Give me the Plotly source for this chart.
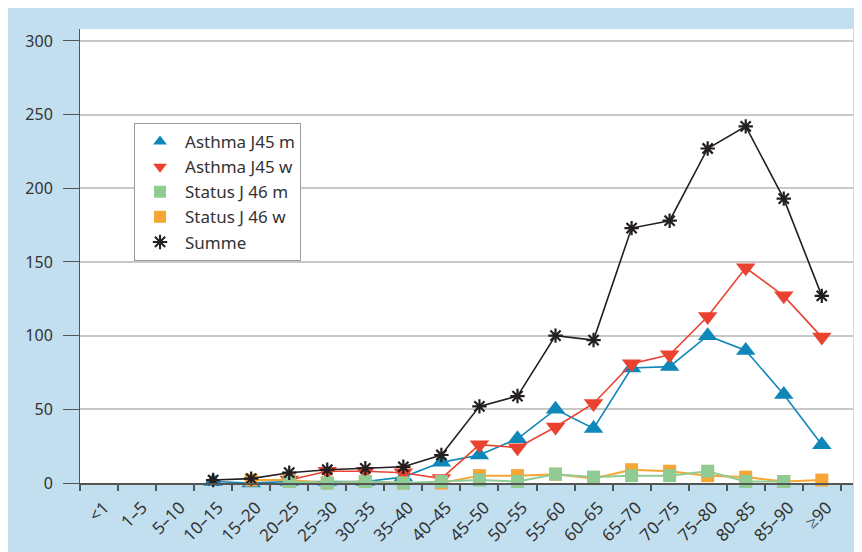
import plotly.graph_objects as go

categories = ["<1", "1–5", "5–10", "10–15", "15–20", "20–25", "25–30", "30–35", "35–40",
              "40–45", "45–50", "50–55", "55–60", "60–65", "65–70", "70–75", "75–80",
              "80–85", "85–90", "≥90"]

asthma_m = [None, None, None, 1, 0, 1, 1, 1, 4, 14, 19, 30, 50, 37, 78, 79, 100, 90, 60, 26]
asthma_w = [None, None, None, None, None, 2, 8, 8, 7, 3, 26, 24, 38, 54, 81, 87, 113, 146, 127, 99]
status_m = [None, None, None, None, None, 1, 0, 1, 0, 1, 2, 1, 6, 4, 5, 5, 8, 1, 1, None]
status_w = [None, None, None, None, 2, 2, 0, 1, 0, 0, 5, 5, 6, 3, 9, 8, 5, 4, 1, 2]
summe = [None, None, None, 2, 3, 7, 9, 10, 11, 19, 52, 59, 100, 97, 173, 178, 227, 242, 193, 127]

y_ticks = [0, 50, 100, 150, 200, 250, 300]

BLUE = "#0f87b9"
RED = "#ea4230"
GREEN = "#8fcb92"
ORANGE = "#f7a535"
BLACK = "#231f20"
PANEL = "#c2dfef"
FONT = "Noto Sans"

series = [
    # name, values, colour, symbol, size, line width, legend rank
    ("Asthma J45 m", asthma_m, BLUE, "triangle-up", 17, 1.6, 1),
    ("Asthma J45 w", asthma_w, RED, "triangle-down", 17, 1.6, 2),
    ("Status J 46 w", status_w, ORANGE, "square", 13, 2.0, 4),
    ("Status J 46 m", status_m, GREEN, "square", 13, 2.0, 3),
    ("Summe", summe, BLACK, "asterisk-open", 12, 1.6, 5),
]

fig = go.Figure()

for name, vals, col, sym, size, lw, rank in series:
    mk = dict(symbol=sym, size=size, color=col)
    if sym.startswith("asterisk"):
        mk["line"] = dict(color=col, width=2.2)
    fig.add_trace(go.Scatter(
        x=categories, y=vals, name=name, mode="lines+markers",
        line=dict(color=col, width=lw), marker=mk,
        cliponaxis=False, showlegend=False))

# legend-only entries (markers without lines, like the reference)
for name, vals, col, sym, size, lw, rank in series:
    mk = dict(symbol=sym, size=size if not sym.startswith("square") else 14, color=col)
    if sym.startswith("asterisk"):
        mk["line"] = dict(color=col, width=2)
        mk["size"] = 11
    fig.add_trace(go.Scatter(
        x=[None], y=[None], name=name, mode="markers", marker=mk,
        legendrank=rank, showlegend=True))

# the page body adds an 8px white margin; figure sized to fill the rest
fig.update_layout(
    width=854, height=544,
    margin=dict(l=72, r=9, t=21, b=69, autoexpand=False),
    paper_bgcolor=PANEL,
    plot_bgcolor="white",
    font=dict(family=FONT, size=16, color="#333333"),
    showlegend=True,
    legend=dict(
        x=0.0699, y=0.793, xanchor="left", yanchor="top",
        bgcolor="white", bordercolor="#9a9a9a", borderwidth=1,
        font=dict(family=FONT, size=17, color="#333333"),
        itemsizing="constant", traceorder="normal", itemwidth=40,
    ),
    xaxis=dict(
        type="category", categoryorder="array", categoryarray=categories,
        range=[-0.5, 19.82], automargin=False,
        tickson="boundaries", ticks="outside", ticklen=6, tickwidth=1.5,
        tickcolor="#555555", showline=True, linecolor="#555555", linewidth=2,
        showgrid=False, tickangle=-45,
        ticklabelstandoff=6, ticklabelshift=5,
        tickfont=dict(family=FONT, size=17, color="#333333"),
        fixedrange=True,
    ),
    yaxis=dict(
        range=[0, 308.1], tickvals=y_ticks, automargin=False,
        ticks="outside", ticklen=16, tickwidth=1, tickcolor="#555555",
        showline=True, linecolor="#555555", linewidth=1,
        showgrid=True, gridcolor="#c8c8c8", gridwidth=1.5,
        zeroline=False, ticklabelstandoff=7,
        tickfont=dict(family=FONT, size=16, color="#333333"),
        fixedrange=True,
    ),
)

fig.write_html("out.html")
